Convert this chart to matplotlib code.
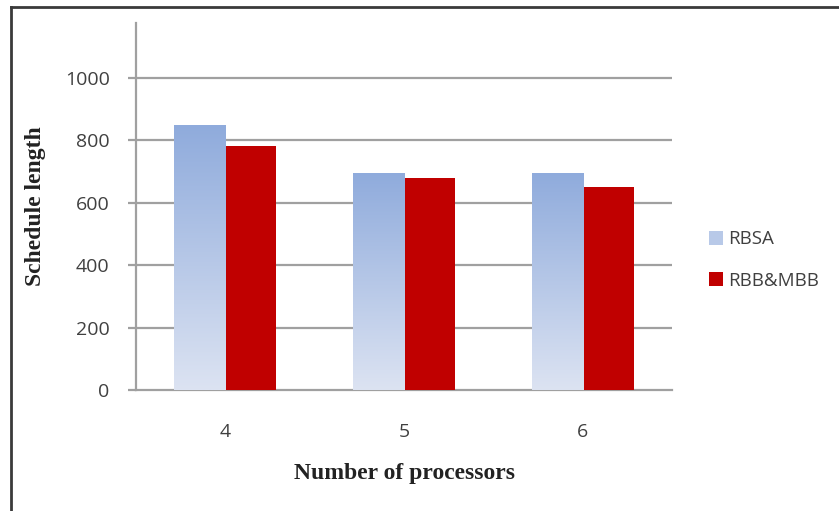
import numpy as np
import matplotlib
matplotlib.use("Agg")
import matplotlib.pyplot as plt
from matplotlib.patches import Patch
from matplotlib.colors import LinearSegmentedColormap
from matplotlib.lines import Line2D

categories = ["4", "5", "6"]
rbsa = [850, 695, 695]
rbb_mbb = [780, 680, 650]
yticks = [0, 200, 400, 600, 800, 1000]

W, H = 839, 511
fig = plt.figure(figsize=(W / 100, H / 100), dpi=100)
ax = fig.add_axes([136 / W, 1 - 390 / H, (672 - 136) / W, (390 - 23) / H])

x = np.arange(len(categories))
bw = 0.286
grid_c = "#a0a0a0"

blue_bars = ax.bar(x - bw / 2, rbsa, width=bw, facecolor="none", edgecolor="none", zorder=3)
red_bars = ax.bar(x + bw / 2, rbb_mbb, width=bw, color="#c00000", edgecolor="none", zorder=3)

# vertical gradient fill for the RBSA bars
grad = LinearSegmentedColormap.from_list("bl", ["#dce3f2", "#8fabdc"])
for p in blue_bars:
    x0, y0 = p.get_x(), p.get_y()
    w, h = p.get_width(), p.get_height()
    img = ax.imshow(np.linspace(0, 1, 256).reshape(-1, 1), cmap=grad, origin="lower",
                    extent=[x0, x0 + w, y0, y0 + h], aspect="auto", zorder=3)
    img.set_clip_path(p)
ax.set_xlim(-0.5, len(categories) - 0.5)
ax.set_ylim(0, 1175)

for v in yticks[1:]:
    ax.axhline(v, color=grid_c, lw=1.6, zorder=1)

for s in ["top", "right"]:
    ax.spines[s].set_visible(False)
for s in ["left", "bottom"]:
    ax.spines[s].set_color(grid_c)
    ax.spines[s].set_linewidth(1.6)

ax.set_yticks(yticks)
ax.set_yticklabels([str(v) for v in yticks])
ax.set_xticks(x)
ax.set_xticklabels(categories)
ax.tick_params(axis="y", length=6, width=1.6, color=grid_c, pad=13,
               labelsize=14, labelcolor="#404040")
ax.tick_params(axis="x", length=0, pad=24, labelsize=14, labelcolor="#404040")
for t in ax.get_xticklabels() + ax.get_yticklabels():
    t.set_fontfamily("Open Sans")

fig.text(405 / W, 1 - 473 / H, "Number of processors", ha="center", va="center",
         family="Liberation Serif", weight="bold", fontsize=17, color="#222222")
fig.text(36 / W, 1 - 206 / H, "Schedule length", ha="center", va="center", rotation=90,
         family="Liberation Serif", weight="bold", fontsize=17, color="#222222")

handles = [Patch(facecolor="#b8c9e8", edgecolor="none"),
           Patch(facecolor="#c00000", edgecolor="none")]
leg = fig.legend(handles, ["RBSA", "RBB&MBB"], loc="center left",
                 bbox_to_anchor=(692 / W, 1 - 260 / H), frameon=False,
                 prop={"family": "Open Sans", "size": 13.5}, labelcolor="#404040",
                 handlelength=0.75, handleheight=0.75, handletextpad=0.3, labelspacing=1.25)

# outer frame (top and left edges)
fig.add_artist(Line2D([11 / W, 1], [1 - 7 / H, 1 - 7 / H], transform=fig.transFigure,
                      color="#3a3a3a", lw=2))
fig.add_artist(Line2D([11 / W, 11 / W], [0, 1 - 7 / H], transform=fig.transFigure,
                      color="#3a3a3a", lw=2))

fig.savefig("out.png", dpi=100)
